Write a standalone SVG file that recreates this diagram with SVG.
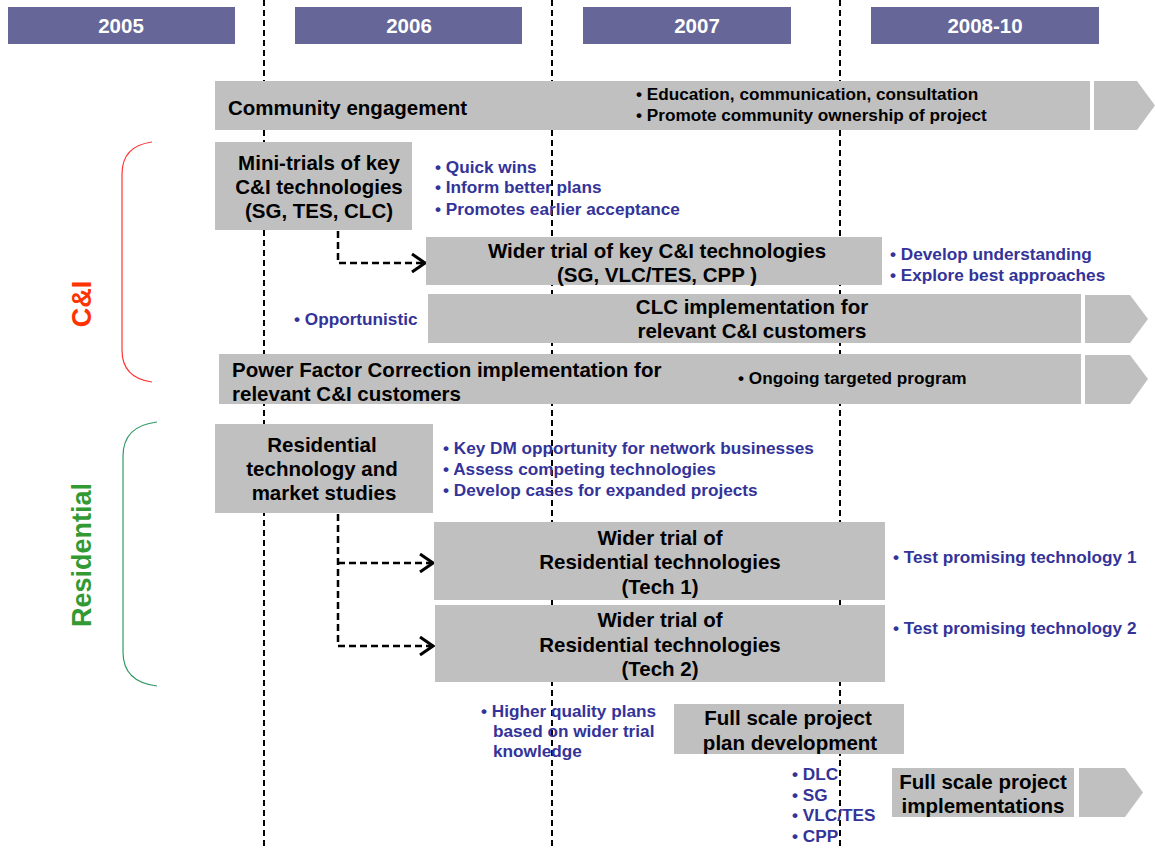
<svg xmlns="http://www.w3.org/2000/svg" width="1155" height="849" viewBox="0 0 1155 849">
<defs>
<style>
.hdr{fill:#666699}
.hdrt{font-family:"Liberation Sans",Arial,sans-serif;font-weight:bold;font-size:20.5px;fill:#ffffff;text-anchor:middle}
.box{fill:#C0C0C0}
.bt{font-family:"Liberation Sans",Arial,sans-serif;font-weight:bold;font-size:20.5px;fill:#000000}
.c{text-anchor:middle}
.bl{font-family:"Liberation Sans",Arial,sans-serif;font-weight:bold;font-size:17.2px;fill:#333399}
.bk{font-family:"Liberation Sans",Arial,sans-serif;font-weight:bold;font-size:17.2px;fill:#000000}
.vl{stroke:#000;stroke-width:2;stroke-dasharray:6 4;fill:none}
.con{stroke:#000;stroke-width:2.5;stroke-dasharray:7 4;fill:none}
.ah{stroke:#000;stroke-width:3;fill:none}
.lbl{font-family:"Liberation Sans",Arial,sans-serif;font-weight:bold;font-size:27px;text-anchor:middle}
</style>
<marker id="arr" markerWidth="16" markerHeight="20" refX="14" refY="10" orient="auto" markerUnits="userSpaceOnUse">
<path d="M1,1 L14,10 L1,19" class="ah"/>
</marker>
</defs>
<rect width="1155" height="849" fill="#ffffff"/>

<g id="year-lines">
<line x1="264" y1="0" x2="264" y2="849" class="vl"/>
<line x1="552" y1="0" x2="552" y2="849" class="vl"/>
<line x1="840" y1="0" x2="840" y2="849" class="vl"/>
</g>

<g id="headers">
<rect x="8" y="7" width="227" height="37" class="hdr"/>
<text x="121" y="33" class="hdrt">2005</text>
<rect x="295" y="7" width="227" height="37" class="hdr"/>
<text x="409" y="33" class="hdrt">2006</text>
<rect x="583" y="7" width="208" height="37" class="hdr"/>
<text x="697" y="33" class="hdrt">2007</text>
<rect x="871" y="7" width="228" height="37" class="hdr"/>
<text x="985" y="33" class="hdrt">2008-10</text>
</g>

<g id="brace-ci">
<path d="M152,142 Q122,146 122,174 L122,350 Q122,378 152,382" fill="none" stroke="#FF3333" stroke-width="1.2"/>
<text transform="translate(91,304) rotate(-90)" class="lbl" fill="#FF3300">C&amp;I</text>
</g>
<g id="brace-res">
<path d="M157,422 Q123,426 123,456 L123,652 Q123,682 157,686" fill="none" stroke="#339966" stroke-width="1.2"/>
<text transform="translate(91,555) rotate(-90)" class="lbl" fill="#339933">Residential</text>
</g>

<g id="connectors">
<path d="M338,231 L338,263 L425,263" class="con" marker-end="url(#arr)"/>
<path d="M338,514 L338,646" class="con"/>
<path d="M338,563 L433,563" class="con" marker-end="url(#arr)"/>
<path d="M338,646 L433,646" class="con" marker-end="url(#arr)"/>
</g>

<g id="community">
<rect x="215" y="81" width="875" height="49" class="box"/>
<polygon points="1094,81 1137,81 1155,105.5 1137,130 1094,130" class="box"/>
<text x="228" y="115" class="bt">Community engagement</text>
<text x="636" y="100" class="bk">• Education, communication, consultation</text>
<text x="636" y="121" class="bk">• Promote community ownership of project</text>
</g>

<g id="mini-trials">
<rect x="215" y="142" width="197" height="88" class="box"/>
<text x="319" y="170" class="bt c">Mini-trials of key</text>
<text x="319" y="194" class="bt c">C&amp;I technologies</text>
<text x="319" y="218" class="bt c">(SG, TES, CLC)</text>
<text x="435" y="173" class="bl">• Quick wins</text>
<text x="435" y="193" class="bl">• Inform better plans</text>
<text x="435" y="215" class="bl">• Promotes earlier acceptance</text>
</g>

<g id="wider-ci">
<rect x="426" y="237" width="456" height="48" class="box"/>
<text x="657" y="258" class="bt c">Wider trial of key C&amp;I technologies</text>
<text x="657" y="282" class="bt c">(SG, VLC/TES, CPP )</text>
<text x="890" y="260" class="bl">• Develop understanding</text>
<text x="890" y="281" class="bl">• Explore best approaches</text>
</g>

<g id="clc">
<rect x="428" y="294" width="653" height="49" class="box"/>
<polygon points="1085,295 1130,295 1148,319 1130,343 1085,343" class="box"/>
<text x="752" y="314" class="bt c">CLC implementation for</text>
<text x="752" y="338" class="bt c">relevant C&amp;I customers</text>
<text x="294" y="325" class="bl">• Opportunistic</text>
</g>

<g id="pfc">
<rect x="219" y="354" width="862" height="50" class="box"/>
<polygon points="1085,355 1130,355 1148,379 1130,404 1085,404" class="box"/>
<text x="232" y="377" class="bt">Power Factor Correction implementation for</text>
<text x="232" y="401" class="bt">relevant C&amp;I customers</text>
<text x="738" y="384" class="bk">• Ongoing targeted program</text>
</g>

<g id="res-studies">
<rect x="215" y="424" width="218" height="89" class="box"/>
<text x="322" y="452" class="bt c">Residential</text>
<text x="322" y="476" class="bt c">technology and</text>
<text x="324" y="500" class="bt c">market studies</text>
<text x="443" y="454" class="bl">• Key DM opportunity for network businesses</text>
<text x="443" y="475" class="bl">• Assess competing technologies</text>
<text x="443" y="496" class="bl">• Develop cases for expanded projects</text>
</g>

<g id="wider-res-1">
<rect x="434" y="522" width="451" height="78" class="box"/>
<text x="660" y="545" class="bt c">Wider trial of</text>
<text x="660" y="569" class="bt c">Residential technologies</text>
<text x="660" y="594" class="bt c">(Tech 1)</text>
<text x="893" y="563" class="bl">• Test promising technology 1</text>
</g>

<g id="wider-res-2">
<rect x="435" y="605" width="450" height="77" class="box"/>
<text x="660" y="627" class="bt c">Wider trial of</text>
<text x="660" y="652" class="bt c">Residential technologies</text>
<text x="660" y="676" class="bt c">(Tech 2)</text>
<text x="893" y="634" class="bl">• Test promising technology 2</text>
</g>

<g id="plan-dev">
<text x="481" y="717" class="bl">• Higher quality plans</text>
<text x="493" y="737" class="bl">based on wider trial</text>
<text x="493" y="757" class="bl">knowledge</text>
<rect x="674" y="704" width="230" height="50" class="box"/>
<text x="788" y="725" class="bt c">Full scale project</text>
<text x="790" y="750" class="bt c">plan development</text>
</g>

<g id="implementations">
<text x="792" y="780" class="bl">• DLC</text>
<text x="792" y="801" class="bl">• SG</text>
<text x="792" y="821" class="bl">• VLC/TES</text>
<text x="792" y="842" class="bl">• CPP</text>
<rect x="892" y="768" width="182" height="49" class="box"/>
<polygon points="1079,768 1125,768 1143,792.5 1125,817 1079,817" class="box"/>
<text x="983" y="789" class="bt c">Full scale project</text>
<text x="983" y="813" class="bt c">implementations</text>
</g>
</svg>
